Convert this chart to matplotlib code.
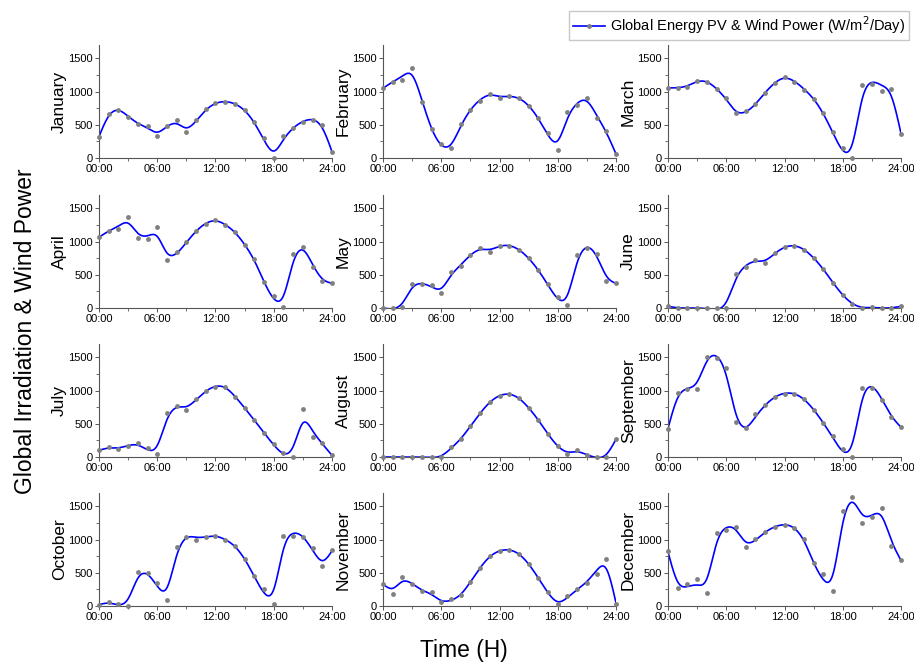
import numpy as np
import matplotlib.pyplot as plt
from matplotlib.ticker import MultipleLocator, FixedLocator
from matplotlib.lines import Line2D

plt.rcParams['font.family'] = ['Liberation Sans', 'DejaVu Sans']

hours = list(range(25))
tick_hours = [0, 6, 12, 18, 24]
tick_labels = ['00:00', '06:00', '12:00', '18:00', '24:00']

months = ['January', 'February', 'March', 'April', 'May', 'June',
          'July', 'August', 'September', 'October', 'November', 'December']

# hourly values (W/m2), 00:00 .. 24:00
january = [320, 665, 725, 615, 510, 485, 335, 485, 575, 385, 570, 730, 820,
           845, 810, 715, 540, 300, 5, 335, 445, 540, 565, 495, 90]
february = [1050, 1150, 1175, 1350, 840, 435, 205, 155, 515, 720, 865, 970, 900,
            930, 900, 785, 605, 380, 125, 690, 790, 900, 605, 400, 60]
march = [1055, 1060, 1070, 1160, 1150, 1035, 905, 670, 700, 810, 985, 1125, 1215,
         1150, 1030, 890, 670, 395, 150, 0, 1095, 1110, 1015, 1040, 360]
april = [1065, 1165, 1190, 1365, 1060, 1045, 1215, 715, 840, 995, 1155, 1270, 1320,
         1245, 1140, 945, 735, 395, 175, 20, 805, 915, 620, 410, 375]
may = [0, 0, 10, 365, 355, 345, 220, 545, 625, 795, 905, 845, 940,
       940, 875, 745, 570, 360, 170, 45, 800, 910, 815, 405, 375]
june = [25, 0, 0, 0, 0, 0, 0, 510, 620, 720, 680, 830, 915,
        935, 880, 750, 585, 380, 195, 65, 5, 15, 0, 0, 25]
july = [100, 150, 120, 170, 205, 135, 45, 665, 760, 710, 870, 990, 1060,
        1055, 905, 735, 555, 360, 200, 65, 5, 720, 305, 205, 25]
august = [0, 0, 0, 0, 0, 0, 0, 145, 265, 465, 655, 825, 920,
          945, 885, 735, 560, 345, 165, 50, 110, 30, 5, 0, 270]
september = [425, 970, 1030, 1020, 1510, 1495, 1340, 530, 430, 640, 775, 900, 955,
             950, 870, 710, 510, 310, 125, 0, 1045, 1040, 865, 595, 450]
october = [20, 65, 35, 5, 505, 490, 340, 85, 895, 1035, 1000, 1035, 1060,
           990, 900, 710, 455, 250, 30, 1050, 1050, 1045, 870, 600, 835]
november = [335, 185, 440, 325, 220, 205, 55, 100, 160, 365, 575, 745, 825,
            840, 785, 630, 425, 210, 25, 145, 260, 350, 475, 700, 35]
december = [820, 265, 330, 410, 200, 1100, 1140, 1195, 890, 1005, 1120, 1185, 1220,
            1170, 1010, 640, 475, 225, 1425, 1645, 1250, 1345, 1475, 900, 690]

series = [january, february, march, april, may, june,
          july, august, september, october, november, december]


def smooth_curve(x, y, lam=0.09, end_weight=6.0, step=0.05):
    """Penalised (smoothing-spline style) fit evaluated on a fine grid."""
    x = np.asarray(x, float)
    y = np.asarray(y, float)
    n = int(round((x[-1] - x[0]) / step)) + 1
    grid = np.linspace(x[0], x[-1], n)
    idx = np.rint((x - x[0]) / step).astype(int)
    w = np.ones(len(x))
    w[0] = w[-1] = end_weight
    W = np.zeros((n, n))
    b = np.zeros(n)
    W[idx, idx] = w
    b[idx] = w * y
    D = np.diff(np.eye(n), 2, axis=0) / step ** 2
    A = W + lam * step * D.T @ D
    return grid, np.linalg.solve(A, b)


fig = plt.figure(figsize=(9.14, 6.62), dpi=100)

lefts = [99, 383, 668]
width = 233
bottoms = [158, 308, 457, 606]
height = 113

for k, (name, vals) in enumerate(zip(months, series)):
    r, c = divmod(k, 3)
    ax = fig.add_axes([lefts[c] / 914, 1 - bottoms[r] / 662, width / 914, height / 662])
    gx, gy = smooth_curve(hours, vals)
    ax.plot(gx, gy, color='#0000ff', lw=1.2, zorder=2)
    ax.plot(hours, vals, 'o', color='#808080', ms=3.5, mec='none', zorder=3, clip_on=False)
    ax.set_xlim(0, 24)
    ax.set_ylim(0, 1700)
    ax.xaxis.set_major_locator(FixedLocator(tick_hours))
    ax.set_xticklabels(tick_labels)
    ax.xaxis.set_minor_locator(MultipleLocator(3))
    ax.yaxis.set_major_locator(FixedLocator([0, 500, 1000, 1500]))
    ax.yaxis.set_minor_locator(MultipleLocator(250))
    for side in ['top', 'right']:
        ax.spines[side].set_visible(False)
    for side in ['left', 'bottom']:
        ax.spines[side].set_color('#555555')
        ax.spines[side].set_linewidth(0.8)
    ax.tick_params(which='major', length=3, width=0.7, colors='#555555',
                   labelcolor='black', labelsize=8, pad=1.5)
    ax.tick_params(which='minor', length=2, width=0.6, colors='#555555')
    ax.set_ylabel(name, fontsize=12.5, labelpad=1)

fig.text(0.028, 0.5, 'Global Irradiation & Wind Power', rotation=90,
         ha='center', va='center', fontsize=16.5)
fig.text(0.508, 0.018, 'Time (H)', ha='center', va='center', fontsize=16.5)

handle = Line2D([], [], color='#0000ff', lw=1.2, marker='o', ms=3.5,
                mfc='#808080', mec='none')
fig.legend([handle], ['Global Energy PV & Wind Power (W/m$^2$/Day)'],
           loc='upper right', bbox_to_anchor=(0.998, 0.988), fontsize=10.5,
           frameon=True, fancybox=False, edgecolor='#bbbbbb',
           handlelength=2.2, handletextpad=0.4, borderpad=0.25,
           borderaxespad=0.2)

fig.savefig('out.png', dpi=100)
